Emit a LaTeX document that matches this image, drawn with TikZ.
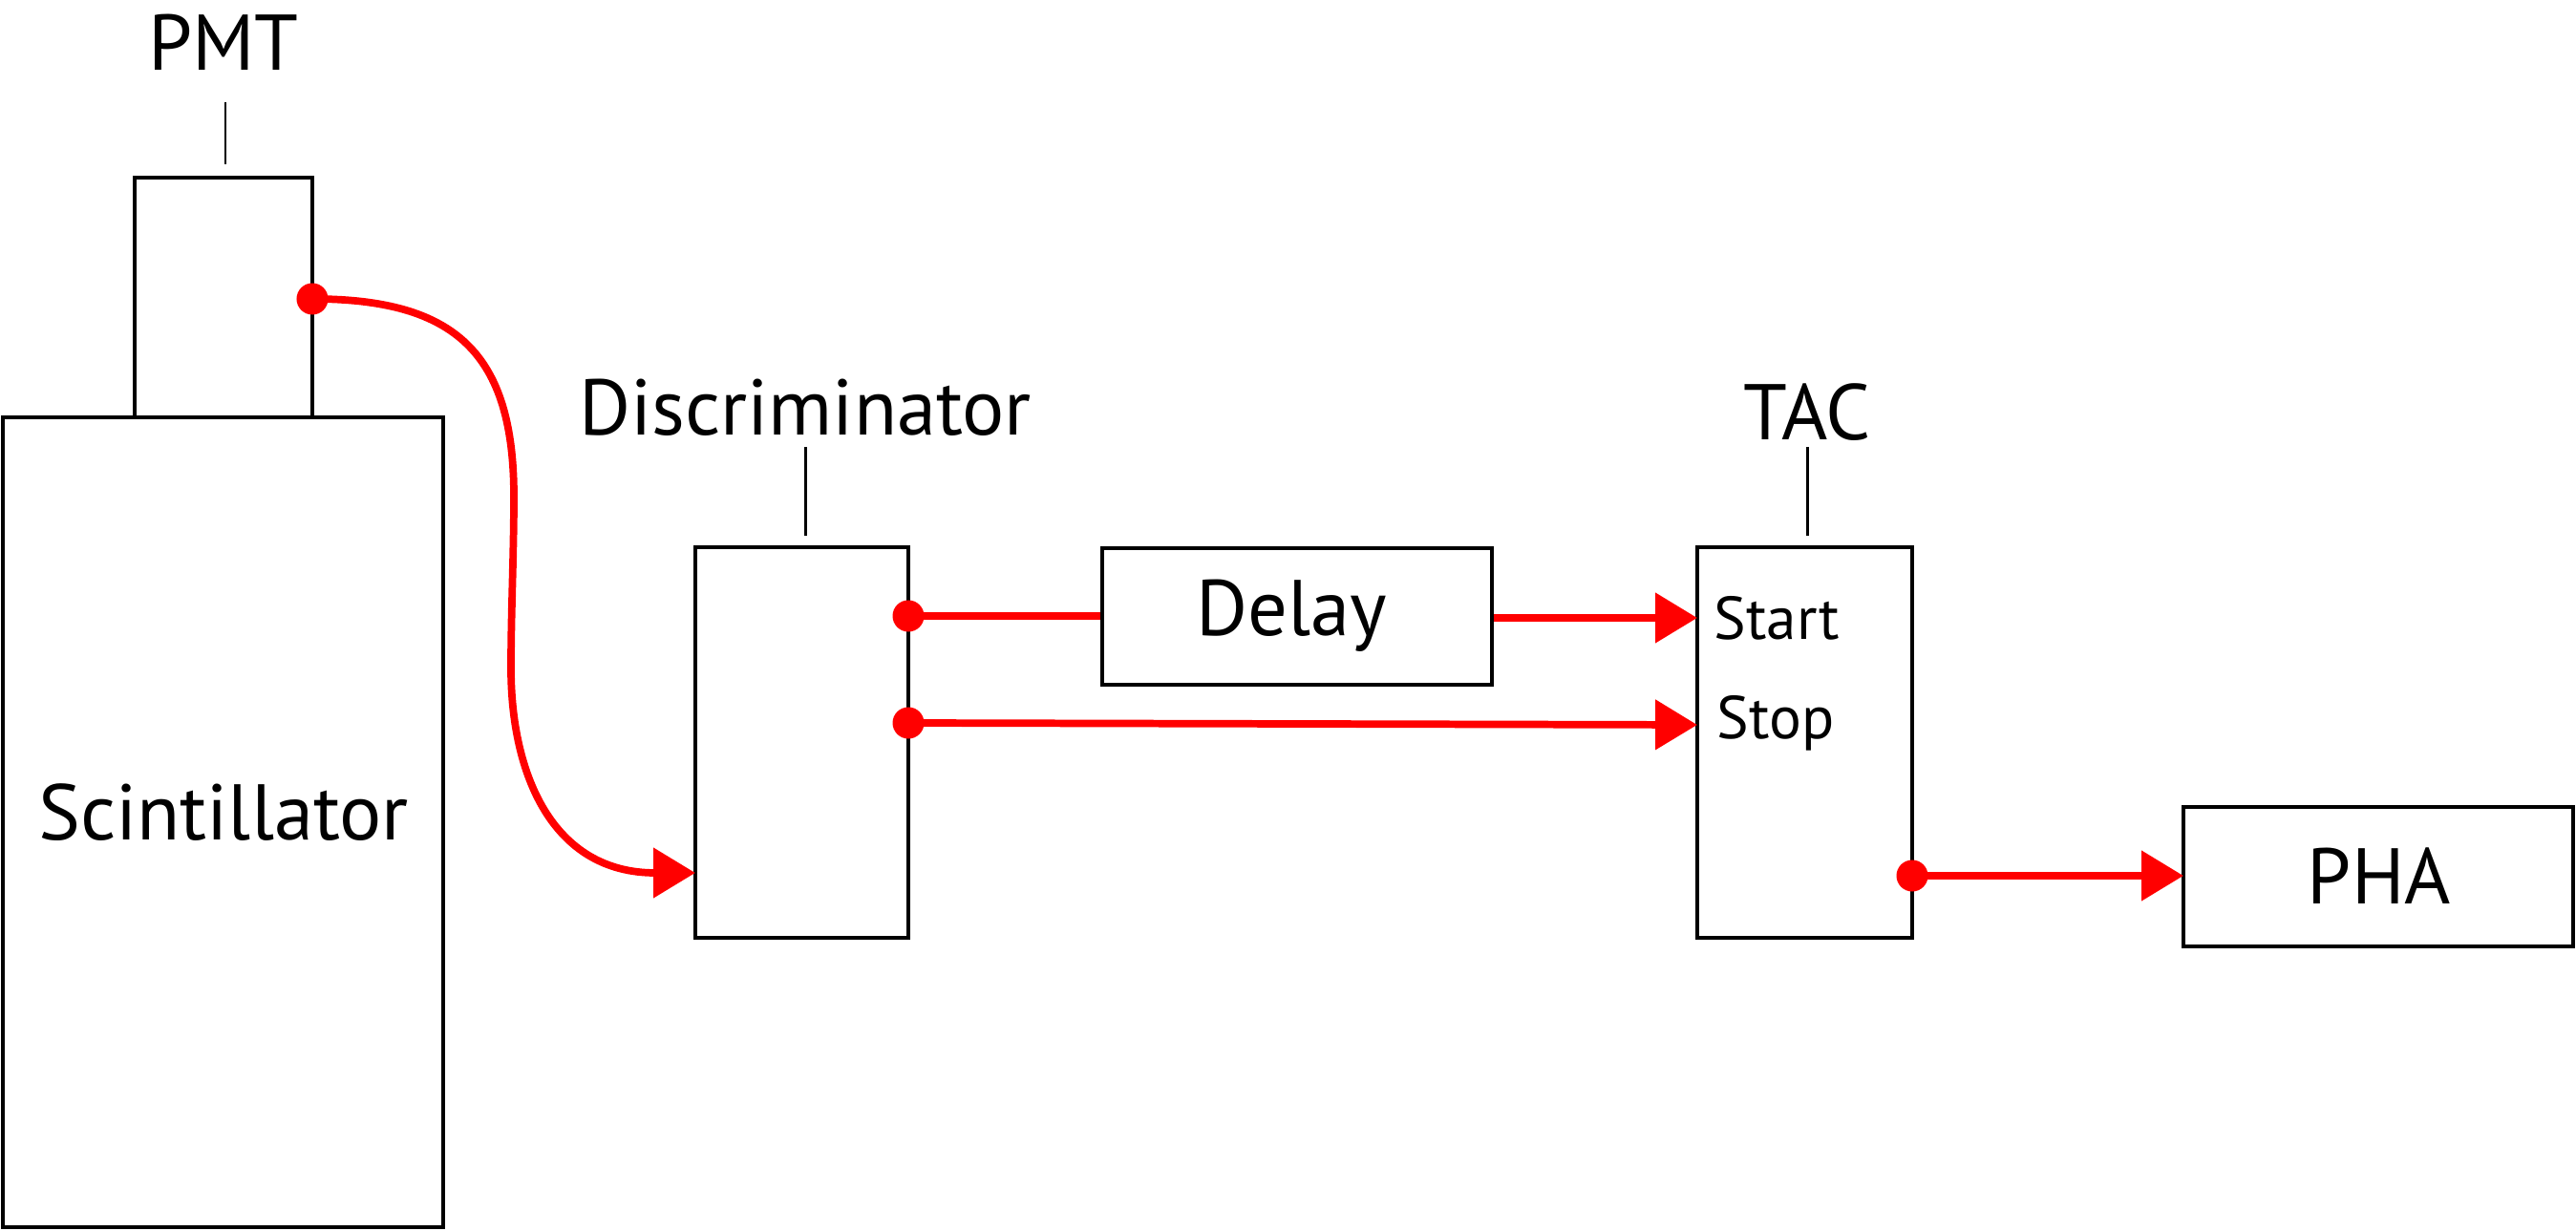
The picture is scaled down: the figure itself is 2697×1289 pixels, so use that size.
\documentclass[tikz,border=0pt]{standalone}
\usepackage{fontspec}
\setmainfont{PT Sans}
\usetikzlibrary{arrows.meta}
\begin{document}
\begin{tikzpicture}[x=0.01cm,y=-0.01cm,
  box/.style={draw=black,line width=1.05pt,inner sep=0pt,fill=none},
  lbl/.style={font=\fontsize{23.5}{28}\selectfont,inner sep=0pt,anchor=base},
  port/.style={font=\fontsize{18}{22}\selectfont,inner sep=0pt,anchor=west},
  leader/.style={draw=black,line width=0.85pt},
  sig/.style={draw=red,line width=2.2pt},
  sigarrow/.style={sig,-{Triangle[length=12.5pt,width=14.5pt]}},
  dot/.style={circle,fill=red,inner sep=0pt,minimum size=0.33cm}]
\useasboundingbox (0,0) rectangle (2697,1289);
% boxes
\node[box,minimum width=1.86cm,minimum height=2.51cm] (pmt) at (234,311.5) {};
\node[box,minimum width=4.61cm,minimum height=8.48cm] (scint) at (233.5,861) {};
\node[box,minimum width=2.23cm,minimum height=4.09cm] (disc) at (839.5,777.5) {};
\node[box,minimum width=4.08cm,minimum height=1.43cm] (delay) at (1358,645.5) {};
\node[box,minimum width=2.25cm,minimum height=4.09cm] (tac) at (1889.5,777.5) {};
\node[box,minimum width=4.08cm,minimum height=1.46cm] (pha) at (2490,918) {};
% texts
\node[lbl] (tpmt) at (234,74) {PMT};
\node[lbl] (tdisc) at (843,456) {Discriminator};
\node[lbl] (ttac) at (1892,461) {TAC};
\node[lbl,anchor=center] (tscint) at (234,851) {Scintillator};
\node[lbl,anchor=center] (tdelay) at (1352,645) {Delay};
\node[lbl,anchor=center] (tpha) at (2491,917) {PHA};
\node[port] (tstart) at (1794,647) {Start};
\node[port] (tstop) at (1797,757) {Stop};
% leaders
\coordinate (lp1) at (236,107); \coordinate (lp2) at (236,172);
\coordinate (ld1) at (843,468); \coordinate (ld2) at (843,561);
\coordinate (lt1) at (1892,468); \coordinate (lt2) at (1892,561);
\draw[leader] (lp1) -- (lp2);
\draw[leader] (ld1) -- (ld2);
\draw[leader] (lt1) -- (lt2);
% ports
\coordinate (pmtout) at (327,313);
\coordinate (discin) at (728,914);
\coordinate (d1) at (951,645);
\coordinate (d2) at (951,757);
\coordinate (tacstart) at (1777,647);
\coordinate (tacstop) at (1777,759);
\coordinate (tacout) at (2002,917);
\coordinate (phain) at (2286,917);
\coordinate (bend1) at (538,520);
\coordinate (bend2) at (535,700);
% signals
\draw[sigarrow] (pmtout) .. controls +(150,0) and +(0,-150) .. (bend1)
  .. controls +(0,60) and +(0,-60) .. (bend2)
  .. controls +(0,110) and +(-150,0) .. (discin);
\draw[sig] (d1) -- (delay.west |- d1);
\draw[sigarrow] (delay.east |- tacstart) -- (tacstart);
\draw[sigarrow] (d2) -- (tacstop);
\draw[sigarrow] (tacout) -- (phain);
\node[dot] (dp) at (pmtout) {};
\node[dot] (dd1) at (d1) {};
\node[dot] (dd2) at (d2) {};
\node[dot] (dt) at (tacout) {};
\end{tikzpicture}
\end{document}
